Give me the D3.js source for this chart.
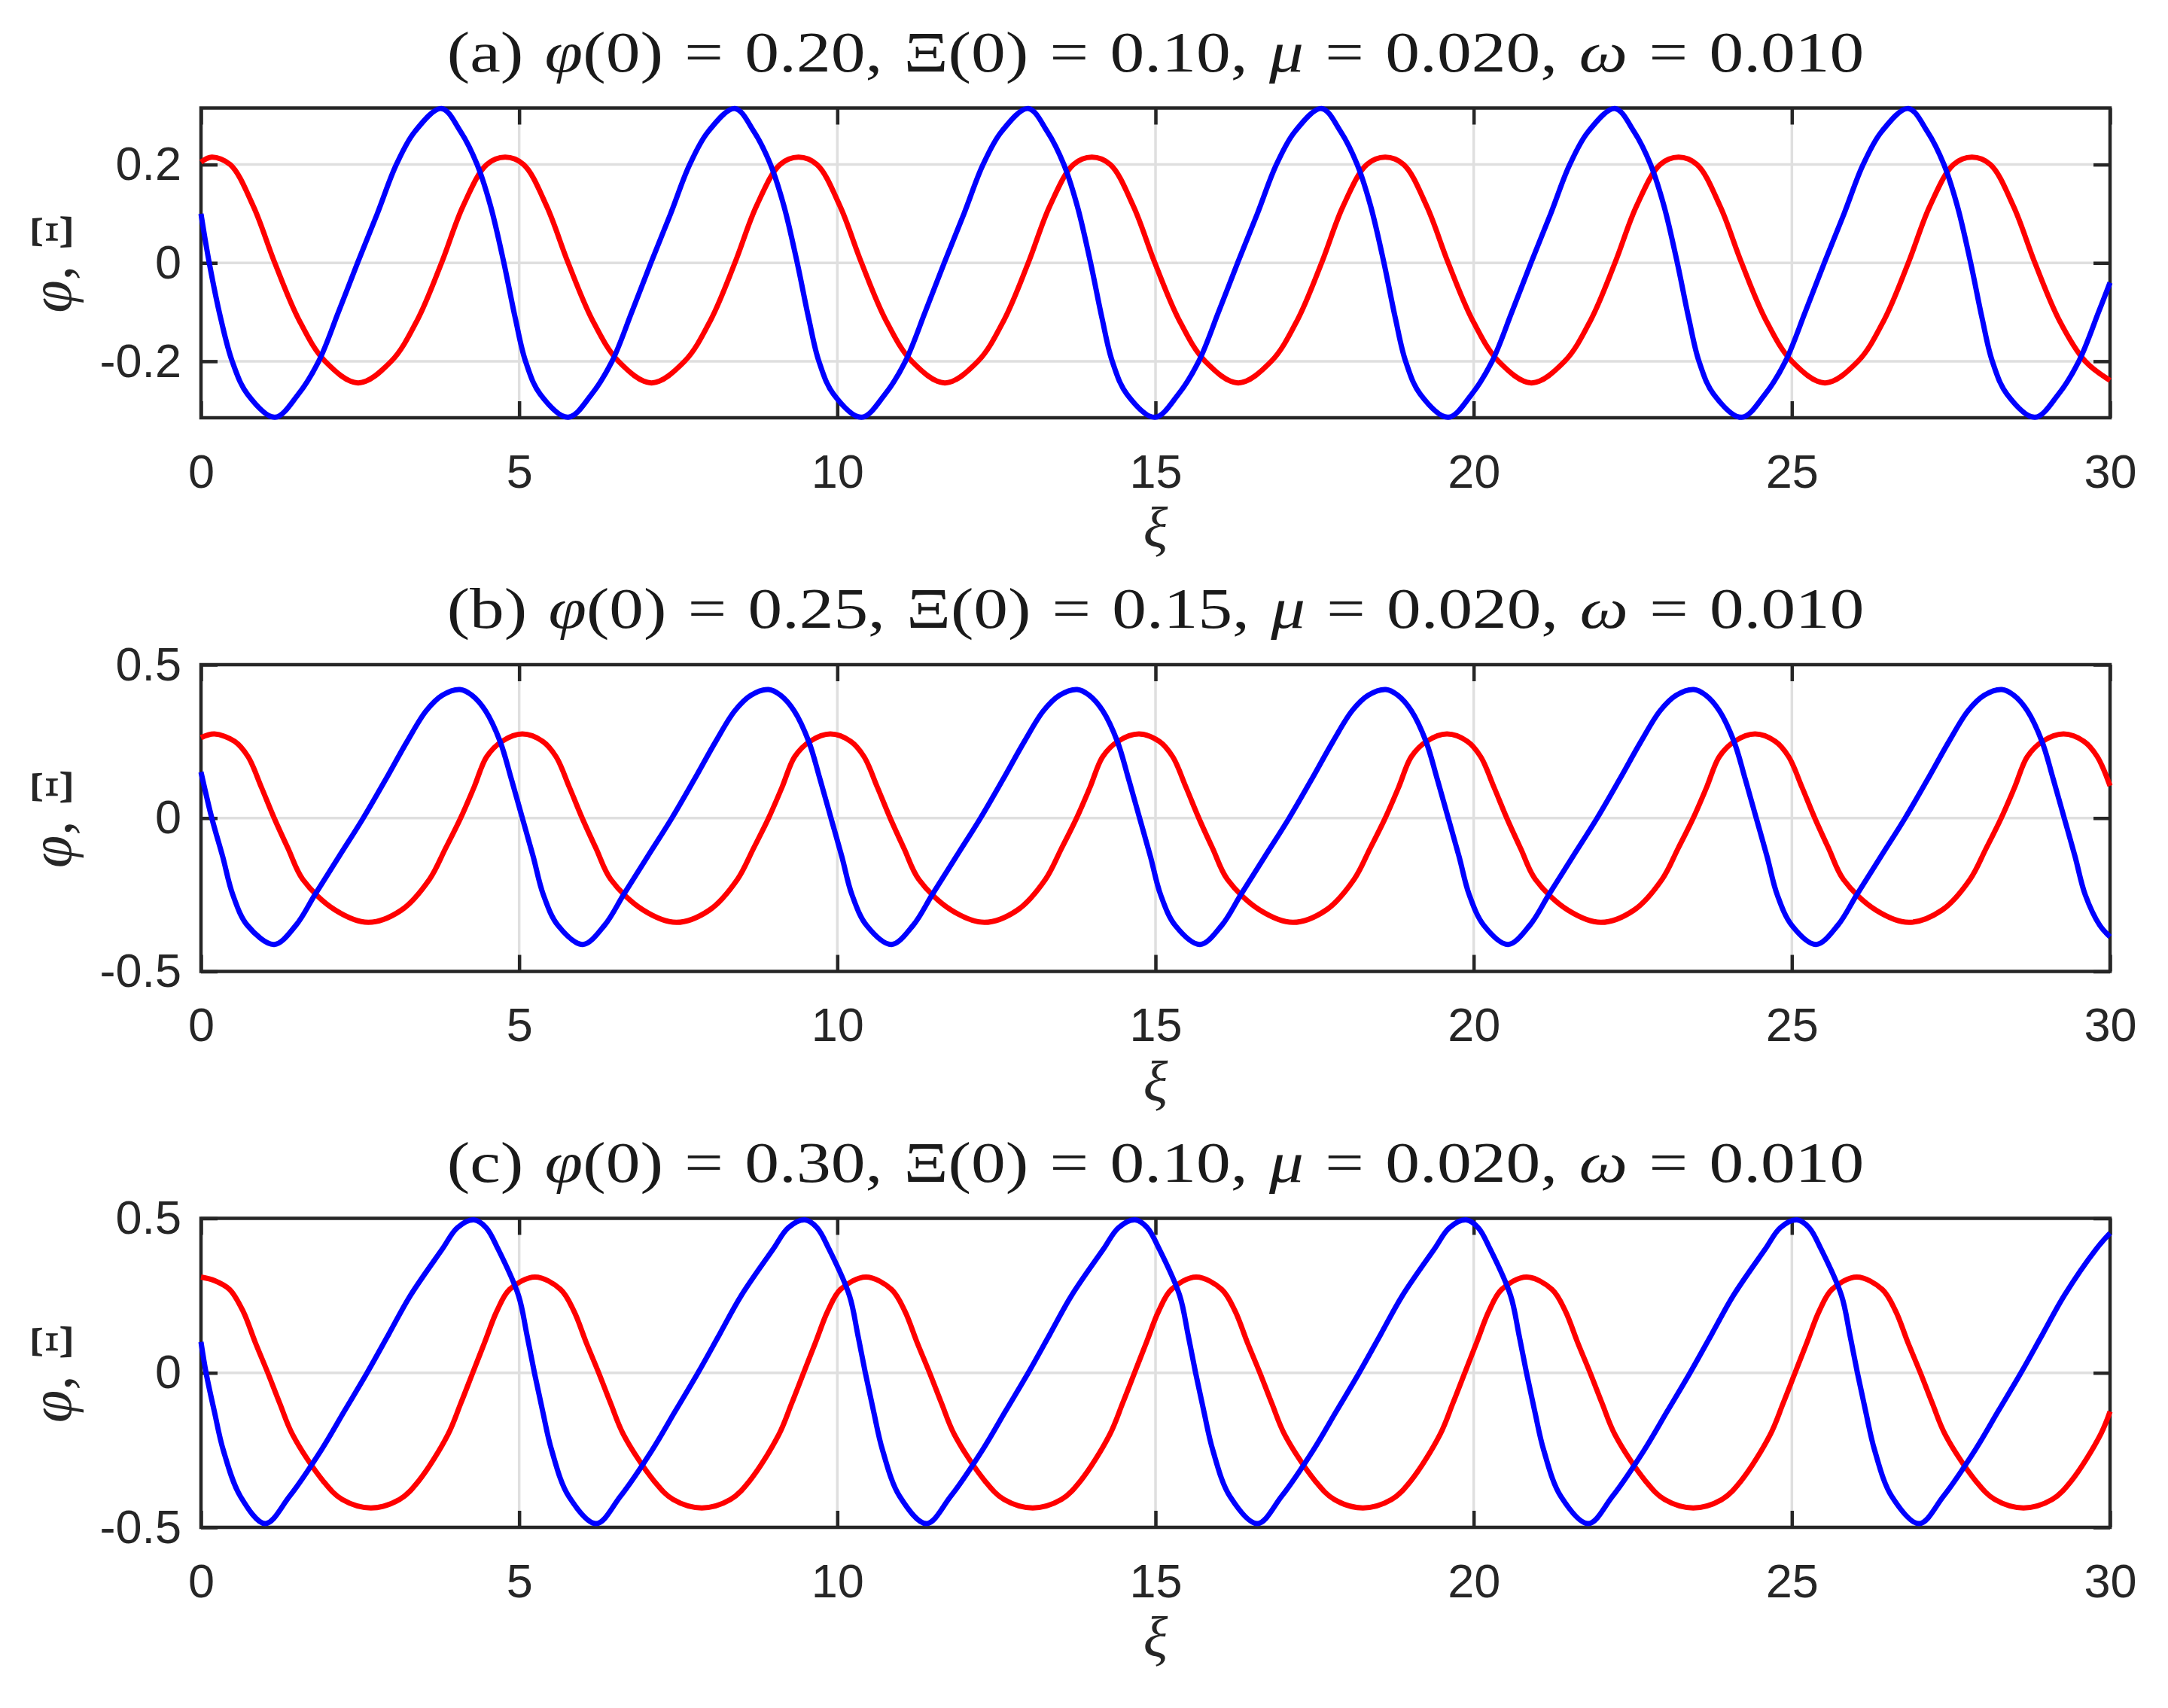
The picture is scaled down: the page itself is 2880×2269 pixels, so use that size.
<!DOCTYPE html>
<html>
<head>
<meta charset="utf-8">
<script src="https://cdn.jsdelivr.net/npm/d3@7"></script>
<style>
  body { margin: 0; background: #fff; }
  svg { display: block; }
</style>
</head>
<body>
<div id="d3-container"></div>
<script>
/**
 * DATA
 * */
const panelLabels = ["(a)", "(b)", "(c)"];
const phi0Labels = ["0.20", "0.25", "0.30"];
const Xi0Labels = ["0.10", "0.15", "0.10"];
const muLabel = "0.020";
const omegaLabel = "0.010";

const xTicks = [0, 5, 10, 15, 20, 25, 30];
const yTicksA = [-0.2, 0, 0.2];
const yTicksBC = [-0.5, 0, 0.5];
const yLimitsA = [-0.315, 0.315];
const yLimitsBC = [-0.5, 0.5];

// panel (a) : [xi, value]
const phiA = [[0,0.205],[0.17,0.215],[0.46,0.2],[0.82,0.116],[1.16,0],[1.54,-0.116],[1.95,-0.2],[2.47,-0.244],
  [2.99,-0.2],[3.40,-0.116],[3.78,0],[4.12,0.116],[4.49,0.2],[4.78,0.215],
  [5.07,0.2],[5.43,0.116],[5.77,0],[6.15,-0.116],[6.56,-0.2],[7.08,-0.244],
  [7.60,-0.2],[8.01,-0.116],[8.39,0],[8.73,0.116],[9.10,0.2],[9.39,0.215],
  [9.68,0.2],[10.04,0.116],[10.38,0],[10.76,-0.116],[11.17,-0.2],[11.69,-0.244],
  [12.21,-0.2],[12.62,-0.116],[13.00,0],[13.34,0.116],[13.71,0.2],[14.00,0.215],
  [14.29,0.2],[14.65,0.116],[14.99,0],[15.37,-0.116],[15.78,-0.2],[16.30,-0.244],
  [16.82,-0.2],[17.23,-0.116],[17.61,0],[17.95,0.116],[18.32,0.2],[18.61,0.215],
  [18.90,0.2],[19.26,0.116],[19.60,0],[19.98,-0.116],[20.39,-0.2],[20.91,-0.244],
  [21.43,-0.2],[21.84,-0.116],[22.22,0],[22.56,0.116],[22.93,0.2],[23.22,0.215],
  [23.51,0.2],[23.87,0.116],[24.21,0],[24.59,-0.116],[25.00,-0.2],[25.52,-0.244],
  [26.04,-0.2],[26.45,-0.116],[26.83,0],[27.17,0.116],[27.54,0.2],[27.83,0.215],
  [28.12,0.2],[28.48,0.116],[28.82,0],[29.20,-0.116],[29.61,-0.2],[30,-0.239]];

const XiA = [[0,0.10],[0.13,0],[0.31,-0.113],[0.49,-0.2],[0.73,-0.267],[1.16,-0.314],
  [1.53,-0.267],[1.85,-0.2],[2.16,-0.1],[2.46,0],[2.77,0.1],[3.07,0.2],[3.36,0.267],[3.78,0.314],
  [4.08,0.267],[4.34,0.2],[4.55,0.116],[4.76,0],[4.94,-0.113],[5.10,-0.2],[5.33,-0.267],[5.77,-0.314],
  [6.14,-0.267],[6.46,-0.2],[6.77,-0.1],[7.07,0],[7.38,0.1],[7.68,0.2],[7.97,0.267],[8.39,0.314],
  [8.69,0.267],[8.95,0.2],[9.16,0.116],[9.37,0],[9.55,-0.113],[9.71,-0.2],[9.94,-0.267],[10.38,-0.314],
  [10.75,-0.267],[11.07,-0.2],[11.38,-0.1],[11.68,0],[11.99,0.1],[12.29,0.2],[12.58,0.267],[13.00,0.314],
  [13.30,0.267],[13.56,0.2],[13.77,0.116],[13.98,0],[14.16,-0.113],[14.32,-0.2],[14.55,-0.267],[14.99,-0.314],
  [15.36,-0.267],[15.68,-0.2],[15.99,-0.1],[16.29,0],[16.60,0.1],[16.90,0.2],[17.19,0.267],[17.61,0.314],
  [17.91,0.267],[18.17,0.2],[18.38,0.116],[18.59,0],[18.77,-0.113],[18.93,-0.2],[19.16,-0.267],[19.60,-0.314],
  [19.97,-0.267],[20.29,-0.2],[20.60,-0.1],[20.90,0],[21.21,0.1],[21.51,0.2],[21.80,0.267],[22.22,0.314],
  [22.52,0.267],[22.78,0.2],[22.99,0.116],[23.20,0],[23.38,-0.113],[23.54,-0.2],[23.77,-0.267],[24.21,-0.314],
  [24.58,-0.267],[24.90,-0.2],[25.21,-0.1],[25.51,0],[25.82,0.1],[26.12,0.2],[26.41,0.267],[26.83,0.314],
  [27.13,0.267],[27.39,0.2],[27.60,0.116],[27.81,0],[27.99,-0.113],[28.15,-0.2],[28.38,-0.267],[28.82,-0.314],
  [29.19,-0.267],[29.51,-0.2],[29.82,-0.1],[30,-0.04]];

// panel (b)
const phiB = [[0,0.262],[0.21,0.274],
  [0.53,0.25],[0.74,0.2],[0.95,0.1],[1.15,0],[1.37,-0.1],[1.60,-0.2],[2.11,-0.3],[2.63,-0.34],
  [3.15,-0.3],[3.59,-0.2],[3.84,-0.1],[4.08,0],[4.29,0.1],[4.49,0.2],[4.73,0.25],[5.05,0.274],
  [5.37,0.25],[5.58,0.2],[5.79,0.1],[5.99,0],[6.21,-0.1],[6.44,-0.2],[6.95,-0.3],[7.47,-0.34],
  [7.99,-0.3],[8.43,-0.2],[8.68,-0.1],[8.92,0],[9.13,0.1],[9.33,0.2],[9.57,0.25],[9.89,0.274],
  [10.21,0.25],[10.42,0.2],[10.63,0.1],[10.83,0],[11.05,-0.1],[11.28,-0.2],[11.79,-0.3],[12.31,-0.34],
  [12.83,-0.3],[13.27,-0.2],[13.52,-0.1],[13.76,0],[13.97,0.1],[14.17,0.2],[14.41,0.25],[14.74,0.274],
  [15.06,0.25],[15.27,0.2],[15.48,0.1],[15.68,0],[15.90,-0.1],[16.13,-0.2],[16.64,-0.3],[17.16,-0.34],
  [17.68,-0.3],[18.12,-0.2],[18.37,-0.1],[18.61,0],[18.82,0.1],[19.02,0.2],[19.26,0.25],[19.58,0.274],
  [19.90,0.25],[20.11,0.2],[20.32,0.1],[20.52,0],[20.74,-0.1],[20.97,-0.2],[21.48,-0.3],[22.00,-0.34],
  [22.52,-0.3],[22.96,-0.2],[23.21,-0.1],[23.45,0],[23.66,0.1],[23.86,0.2],[24.10,0.25],[24.42,0.274],
  [24.74,0.25],[24.95,0.2],[25.16,0.1],[25.36,0],[25.58,-0.1],[25.81,-0.2],[26.32,-0.3],[26.84,-0.34],
  [27.36,-0.3],[27.80,-0.2],[28.05,-0.1],[28.29,0],[28.50,0.1],[28.70,0.2],[28.94,0.25],[29.27,0.274],
  [29.59,0.25],[29.80,0.2],[30,0.105]];

const XiB = [[0,0.15],[0.17,0],[0.34,-0.125],[0.50,-0.25],[0.73,-0.35],[1.15,-0.412],
  [1.49,-0.35],[1.79,-0.25],[2.17,-0.125],[2.55,0],[2.90,0.125],[3.24,0.25],[3.54,0.35],[3.79,0.40],[4.07,0.419],
  [4.26,0.40],[4.47,0.35],[4.70,0.25],[4.88,0.125],[5.05,0],[5.22,-0.125],[5.38,-0.25],[5.61,-0.35],[6.00,-0.412],
  [6.34,-0.35],[6.64,-0.25],[7.02,-0.125],[7.40,0],[7.75,0.125],[8.09,0.25],[8.39,0.35],[8.64,0.40],[8.92,0.419],
  [9.11,0.40],[9.32,0.35],[9.55,0.25],[9.73,0.125],[9.90,0],[10.07,-0.125],[10.23,-0.25],[10.46,-0.35],[10.85,-0.412],
  [11.19,-0.35],[11.49,-0.25],[11.87,-0.125],[12.25,0],[12.60,0.125],[12.94,0.25],[13.24,0.35],[13.49,0.40],[13.77,0.419],
  [13.96,0.40],[14.17,0.35],[14.40,0.25],[14.58,0.125],[14.75,0],[14.92,-0.125],[15.08,-0.25],[15.31,-0.35],[15.70,-0.412],
  [16.04,-0.35],[16.34,-0.25],[16.72,-0.125],[17.10,0],[17.45,0.125],[17.79,0.25],[18.09,0.35],[18.34,0.40],[18.62,0.419],
  [18.81,0.40],[19.02,0.35],[19.25,0.25],[19.43,0.125],[19.60,0],[19.77,-0.125],[19.93,-0.25],[20.16,-0.35],[20.54,-0.412],
  [20.88,-0.35],[21.18,-0.25],[21.56,-0.125],[21.94,0],[22.29,0.125],[22.63,0.25],[22.93,0.35],[23.18,0.40],[23.46,0.419],
  [23.65,0.40],[23.86,0.35],[24.09,0.25],[24.27,0.125],[24.44,0],[24.61,-0.125],[24.77,-0.25],[25.00,-0.35],[25.38,-0.412],
  [25.72,-0.35],[26.02,-0.25],[26.40,-0.125],[26.78,0],[27.13,0.125],[27.47,0.25],[27.77,0.35],[28.02,0.40],[28.30,0.419],
  [28.49,0.40],[28.70,0.35],[28.93,0.25],[29.11,0.125],[29.28,0],[29.45,-0.125],[29.61,-0.25],[29.84,-0.35],[30,-0.387]];

// panel (c)
const phiC = [[0,0.31],[0.22,0.298],
  [0.45,0.27],[0.66,0.2],[0.85,0.1],[1.05,0],[1.24,-0.1],[1.44,-0.2],[1.92,-0.35],[2.22,-0.41],[2.67,-0.437],
  [3.12,-0.41],[3.42,-0.35],[3.88,-0.2],[4.08,-0.1],[4.27,0],[4.46,0.1],[4.65,0.2],[4.85,0.27],[5.25,0.31],
  [5.65,0.27],[5.86,0.2],[6.05,0.1],[6.25,0],[6.44,-0.1],[6.64,-0.2],[7.12,-0.35],[7.42,-0.41],[7.87,-0.437],
  [8.32,-0.41],[8.62,-0.35],[9.08,-0.2],[9.28,-0.1],[9.47,0],[9.66,0.1],[9.85,0.2],[10.05,0.27],[10.45,0.31],
  [10.85,0.27],[11.06,0.2],[11.25,0.1],[11.45,0],[11.64,-0.1],[11.84,-0.2],[12.32,-0.35],[12.62,-0.41],[13.07,-0.437],
  [13.52,-0.41],[13.82,-0.35],[14.28,-0.2],[14.48,-0.1],[14.67,0],[14.86,0.1],[15.05,0.2],[15.25,0.27],[15.64,0.31],
  [16.04,0.27],[16.25,0.2],[16.44,0.1],[16.64,0],[16.83,-0.1],[17.03,-0.2],[17.51,-0.35],[17.81,-0.41],[18.26,-0.437],
  [18.71,-0.41],[19.01,-0.35],[19.47,-0.2],[19.67,-0.1],[19.86,0],[20.05,0.1],[20.24,0.2],[20.44,0.27],[20.83,0.31],
  [21.23,0.27],[21.44,0.2],[21.63,0.1],[21.83,0],[22.02,-0.1],[22.22,-0.2],[22.70,-0.35],[23.00,-0.41],[23.45,-0.437],
  [23.90,-0.41],[24.20,-0.35],[24.66,-0.2],[24.86,-0.1],[25.05,0],[25.24,0.1],[25.43,0.2],[25.63,0.27],[26.02,0.31],
  [26.42,0.27],[26.63,0.2],[26.82,0.1],[27.02,0],[27.21,-0.1],[27.41,-0.2],[27.89,-0.35],[28.19,-0.41],[28.64,-0.437],
  [29.09,-0.41],[29.39,-0.35],[29.85,-0.2],[30,-0.125]];

const XiC = [[0,0.10],[0.08,0],[0.21,-0.125],[0.35,-0.25],[0.62,-0.4],[1.01,-0.488],
  [1.39,-0.4],[1.89,-0.25],[2.25,-0.125],[2.61,0],[2.95,0.125],[3.29,0.25],[3.79,0.4],[4.03,0.47],[4.29,0.495],
  [4.48,0.47],[4.67,0.4],[4.99,0.25],[5.12,0.125],[5.24,0],[5.37,-0.125],[5.51,-0.25],[5.78,-0.4],[6.21,-0.488],
  [6.59,-0.4],[7.09,-0.25],[7.45,-0.125],[7.81,0],[8.15,0.125],[8.49,0.25],[8.99,0.4],[9.23,0.47],[9.49,0.495],
  [9.68,0.47],[9.87,0.4],[10.19,0.25],[10.32,0.125],[10.44,0],[10.57,-0.125],[10.71,-0.25],[10.98,-0.4],[11.40,-0.488],
  [11.78,-0.4],[12.28,-0.25],[12.64,-0.125],[13.00,0],[13.34,0.125],[13.68,0.25],[14.18,0.4],[14.42,0.47],[14.68,0.495],
  [14.87,0.47],[15.06,0.4],[15.38,0.25],[15.51,0.125],[15.63,0],[15.76,-0.125],[15.90,-0.25],[16.17,-0.4],[16.60,-0.488],
  [16.98,-0.4],[17.48,-0.25],[17.84,-0.125],[18.20,0],[18.54,0.125],[18.88,0.25],[19.38,0.4],[19.62,0.47],[19.88,0.495],
  [20.07,0.47],[20.26,0.4],[20.58,0.25],[20.71,0.125],[20.83,0],[20.96,-0.125],[21.10,-0.25],[21.37,-0.4],[21.80,-0.488],
  [22.18,-0.4],[22.68,-0.25],[23.04,-0.125],[23.40,0],[23.74,0.125],[24.08,0.25],[24.58,0.4],[24.82,0.47],[25.08,0.495],
  [25.27,0.47],[25.46,0.4],[25.78,0.25],[25.91,0.125],[26.03,0],[26.16,-0.125],[26.30,-0.25],[26.57,-0.4],[27.00,-0.488],
  [27.38,-0.4],[27.88,-0.25],[28.24,-0.125],[28.60,0],[28.94,0.125],[29.28,0.25],[29.78,0.4],[30,0.452]];

/**
 * CONSTANTS AND LAYOUT
 * */
const width = 2880,
  height = 2269,
  plotLeft = 267,
  plotRight = 2803,
  tickLen = 22;

const boxes = [
  { top: 143.5, bottom: 555 },
  { top: 883, bottom: 1290.5 },
  { top: 1618.5, bottom: 2029 },
];

const axisColor = "#262626",
  gridColor = "#dfdfdf",
  phiColor = "#ff0000",
  XiColor = "#0000ff";

const serif = "'Liberation Serif', 'Times New Roman', serif",
  sans = "'Liberation Sans', Arial, Helvetica, sans-serif";

const panels = [
  { phi: phiA, Xi: XiA, yTicks: yTicksA, yDomain: yLimitsA },
  { phi: phiB, Xi: XiB, yTicks: yTicksBC, yDomain: yLimitsBC },
  { phi: phiC, Xi: XiC, yTicks: yTicksBC, yDomain: yLimitsBC },
];

/**
 * DRAW
 * */
const svg = d3.select("#d3-container")
  .append("svg")
  .attr("width", width)
  .attr("height", height)
  .style("background", "#fff");

const x = d3.scaleLinear().domain([0, 30]).range([plotLeft, plotRight]);
const cx = (plotLeft + plotRight) / 2;

function styleAxis(sel, showText) {
  sel.attr("font-size", null).attr("font-family", null);
  sel.select(".domain").remove();
  sel.selectAll(".tick line")
    .attr("stroke", axisColor)
    .attr("stroke-width", 4.5);
  sel.selectAll(".tick text")
    .attr("fill", axisColor)
    .style("font-family", sans)
    .style("font-size", "63px")
    .style("display", showText ? null : "none");
}

const yFormat = d => (d === 0 ? "0" : String(d));

panels.forEach((p, i) => {
  const box = boxes[i];
  const y = d3.scaleLinear().domain(p.yDomain).range([box.bottom, box.top]);
  const g = svg.append("g");

  // grid lines
  g.append("g")
    .selectAll("line")
    .data(xTicks)
    .join("line")
    .attr("x1", d => x(d)).attr("x2", d => x(d))
    .attr("y1", box.top).attr("y2", box.bottom)
    .attr("stroke", gridColor)
    .attr("stroke-width", 3.5);

  g.append("g")
    .selectAll("line")
    .data(p.yTicks)
    .join("line")
    .attr("x1", plotLeft).attr("x2", plotRight)
    .attr("y1", d => y(d)).attr("y2", d => y(d))
    .attr("stroke", gridColor)
    .attr("stroke-width", 3.5);

  // axes, ticks pointing inwards
  g.append("g")
    .attr("transform", `translate(0,${box.bottom})`)
    .call(d3.axisBottom(x).tickValues(xTicks).tickSize(-tickLen).tickPadding(48).tickFormat(d3.format("d")))
    .call(s => styleAxis(s, true));
  g.append("g")
    .attr("transform", `translate(0,${box.top})`)
    .call(d3.axisTop(x).tickValues(xTicks).tickSize(-tickLen).tickFormat(""))
    .call(s => styleAxis(s, false));
  g.append("g")
    .attr("transform", `translate(${plotLeft},0)`)
    .call(d3.axisLeft(y).tickValues(p.yTicks).tickSize(-tickLen).tickPadding(26).tickFormat(yFormat))
    .call(s => styleAxis(s, true));
  g.append("g")
    .attr("transform", `translate(${plotRight},0)`)
    .call(d3.axisRight(y).tickValues(p.yTicks).tickSize(-tickLen).tickFormat(""))
    .call(s => styleAxis(s, false));

  // box
  g.append("rect")
    .attr("x", plotLeft).attr("y", box.top)
    .attr("width", plotRight - plotLeft)
    .attr("height", box.bottom - box.top)
    .attr("fill", "none")
    .attr("stroke", axisColor)
    .attr("stroke-width", 4.5);

  // curves: phi (red) then Xi (blue) on top
  const line = d3.line()
    .x(d => x(d[0]))
    .y(d => y(d[1]))
    .curve(d3.curveCatmullRom.alpha(0.5));

  [[p.phi, phiColor], [p.Xi, XiColor]].forEach(([data, color]) => {
    g.append("path")
      .datum(data)
      .attr("d", line)
      .attr("fill", "none")
      .attr("stroke", color)
      .attr("stroke-width", 7)
      .attr("stroke-linejoin", "round");
  });

  // title
  const title = g.append("text")
    .attr("text-anchor", "middle")
    .attr("fill", "#1a1a1a")
    .style("font-family", serif)
    .style("font-size", "76px")
    .style("white-space", "pre")
    .style("word-spacing", "0.06em");

  const parts = [
    [panelLabels[i] + " ", false],
    ["\u03c6", true],
    ["(0) = " + phi0Labels[i] + ", ", false],
    ["\u039e(0) = " + Xi0Labels[i] + ", ", false],
    ["\u03bc", true],
    [" = " + muLabel + ", ", false],
    ["\u03c9", true],
    [" = " + omegaLabel, false],
  ];
  title.selectAll("tspan")
    .data(parts)
    .join("tspan")
    .style("font-style", d => (d[1] ? "italic" : "normal"))
    .text(d => d[0]);

  const tw = title.node().getComputedTextLength();
  title.attr("transform", `translate(${cx},${box.top - 49}) scale(${1883 / tw},1)`);

  // x label
  g.append("text")
    .attr("x", cx)
    .attr("y", box.bottom + 172)
    .attr("text-anchor", "middle")
    .attr("fill", axisColor)
    .style("font-family", serif)
    .style("font-style", "italic")
    .style("font-size", "76px")
    .text("\u03be");

  // y label
  const yl = g.append("text")
    .attr("transform", `translate(94,${(box.top + box.bottom) / 2}) rotate(-90)`)
    .attr("text-anchor", "middle")
    .attr("fill", axisColor)
    .style("font-family", serif)
    .style("font-size", "78px")
    .style("white-space", "pre");
  yl.append("tspan").style("font-style", "italic").text("\u03c6");
  yl.append("tspan").text(", \u039e");
});
</script>
</body>
</html>
